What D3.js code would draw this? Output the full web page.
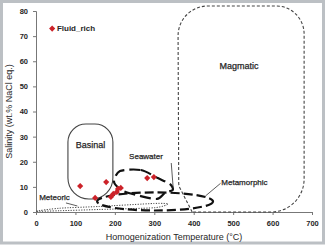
<!DOCTYPE html>
<html><head><meta charset="utf-8">
<script src="https://cdn.jsdelivr.net/npm/d3@7/dist/d3.min.js"></script>
<style>html,body{margin:0;padding:0;background:#fff;}svg{display:block;}</style>
</head><body>
<script>
// ---- data ----
const xTicks = [0,100,200,300,400,500,600,700];
const yTicks = [0,10,20,30,40,50,60,70,80];
const xTitle = "Homogenization Temperature (°C)";
const yTitle = "Salinity (wt.% NaCl eq.)";
const seriesName = "Fluid_rich";
const fluidT = [112,150,178,190,196,205,208,215,282,299];
const fluidS = [10.3,5.6,11.9,6.0,7.2,8.0,9.2,9.6,13.5,13.9];
// field outlines (temperature, salinity)
const magmaticField = [[396,0],[362,10.5],[360,82],[680,82],[680,0]];
const basinalField = [[81,35],[195,35],[195,5.2],[81,5.2]];
const seawaterField = [[213,16.3],[266,16.7],[309,13.5],[340,11.1],[347,8.8],[327,7.6],[307,5.2],[264,6.4],[221,8.4],[198,11.9]];
const metamorphicField = {cT:302, cS:4.2, rT:147, rS:3.6};
const meteoricField = [[0,0.3],[60,1.5],[160,2.2],[300,3.4],[335,3.2],[300,1.7],[160,1.0],[60,0.5]];
const fieldLabels = ["Magmatic","Basinal","Seawater","Metamorphic","Meteoric"];

// ---- drawing ----
const W = 325, H = 245;
const svg = d3.select("body").append("svg").attr("width", W).attr("height", H);
svg.append("rect").attr("x",0).attr("y",0).attr("width",W).attr("height",H).attr("fill","#fff");
svg.append("rect").attr("x",1.5).attr("y",1.5).attr("width",W-3).attr("height",H-3.5)
  .attr("fill","none").attr("stroke","#bcc0c4").attr("stroke-width",3);

const x = d3.scaleLinear().domain([0,700]).range([36,312]);
const y = d3.scaleLinear().domain([0,80]).range([212,11]);
const font = "'Liberation Sans', Arial, sans-serif";
const txt = "#262626";

function roundedPath(pts, radii){
  const p = d3.path(); const n = pts.length;
  for (let i=0;i<n;i++){
    const c = pts[i], pr = pts[(i-1+n)%n], nx = pts[(i+1)%n];
    const d1 = Math.hypot(pr[0]-c[0], pr[1]-c[1]), d2 = Math.hypot(nx[0]-c[0], nx[1]-c[1]);
    const r1 = Math.min(radii[i], d1/2), r2 = Math.min(radii[i], d2/2);
    const a = [c[0]+(pr[0]-c[0])*r1/d1, c[1]+(pr[1]-c[1])*r1/d1];
    const b = [c[0]+(nx[0]-c[0])*r2/d2, c[1]+(nx[1]-c[1])*r2/d2];
    if (i===0) p.moveTo(a[0],a[1]); else p.lineTo(a[0],a[1]);
    const k = 0.552;
    p.bezierCurveTo(a[0]+(c[0]-a[0])*k, a[1]+(c[1]-a[1])*k, b[0]+(c[0]-b[0])*k, b[1]+(c[1]-b[1])*k, b[0], b[1]);
  }
  p.closePath();
  return p.toString();
}
const toPx = arr => arr.map(d => [x(d[0]), y(d[1])]);

// axes
const gx = svg.append("g").attr("transform",`translate(0,${y(0)})`)
  .call(d3.axisBottom(x).tickValues(xTicks).tickSize(3).tickPadding(6).tickFormat(d3.format("d")));
const gy = svg.append("g").attr("transform",`translate(${x(0)},0)`)
  .call(d3.axisLeft(y).tickValues(yTicks).tickSize(3).tickPadding(5).tickFormat(d3.format("d")));
[gx,gy].forEach(g=>{
  g.select(".domain").attr("stroke","#777");
  g.selectAll(".tick line").attr("stroke","#777");
  g.selectAll("text").attr("font-family",font).attr("font-size",7.5).attr("font-weight","bold").attr("fill",txt);
});

// meteoric (dotted)
svg.append("path").attr("d", d3.line().curve(d3.curveCardinalClosed.tension(0.3))(toPx(meteoricField)))
  .attr("fill","none").attr("stroke","#444").attr("stroke-width",1).attr("stroke-dasharray","1.2,1.4");
// magmatic (short dashes)
svg.append("path").attr("d", roundedPath(toPx(magmaticField), [0,2,30,28,33]))
  .attr("fill","none").attr("stroke","#444").attr("stroke-width",1.1).attr("stroke-dasharray","3,2");
// basinal (solid)
svg.append("path").attr("d", roundedPath(toPx(basinalField), [18,18,21,21]))
  .attr("fill","none").attr("stroke","#444").attr("stroke-width",1.1);
// metamorphic ellipse
svg.append("ellipse")
  .attr("cx", x(metamorphicField.cT)).attr("cy", y(metamorphicField.cS))
  .attr("rx", x(metamorphicField.cT+metamorphicField.rT)-x(metamorphicField.cT))
  .attr("ry", y(0)-y(metamorphicField.rS))
  .attr("fill","none").attr("stroke","#111").attr("stroke-width",2.2).attr("stroke-dasharray","9,4");
// seawater
svg.append("path").attr("d", d3.line().curve(d3.curveCardinalClosed.tension(0.2))(toPx(seawaterField)))
  .attr("fill","none").attr("stroke","#111").attr("stroke-width",2.2).attr("stroke-dasharray","11,5");

// leader lines
const leader = (x1,y1,x2,y2)=>svg.append("line").attr("x1",x1).attr("y1",y1).attr("x2",x2).attr("y2",y2)
  .attr("stroke","#333").attr("stroke-width",0.8);
leader(x(343), y(19.5), x(348), y(9.5));
leader(x(468), y(11.4), x(430), y(6.4));
leader(x(76), y(3.6), x(105), y(2.4));

// labels
const lab = (t,xx,yy,anchor,size)=>svg.append("text").attr("x",xx).attr("y",yy).attr("text-anchor",anchor)
  .attr("dominant-baseline","central").attr("font-family",font).attr("font-size",size).attr("fill",txt)
  .attr("stroke",txt).attr("stroke-width",0.25).text(t);
lab(fieldLabels[0], x(515), y(58), "middle", 9);
lab(fieldLabels[1], x(138), y(26.5), "middle", 9);
lab(fieldLabels[2], x(279), y(21.9), "middle", 8);
lab(fieldLabels[3], x(470), y(11.9), "start", 8);
lab(fieldLabels[4], x(8), y(5.6), "start", 8);

// points (square diamonds)
const sym = d3.symbol().type(d3.symbolSquare).size(19);
svg.append("g").selectAll("path").data(fluidT).join("path")
  .attr("transform",(d,i)=>`translate(${x(d)},${y(fluidS[i])}) rotate(45)`)
  .attr("d", sym).attr("fill","#cc2229");

// legend
svg.append("path").attr("transform",`translate(${x(41)},${y(73)}) rotate(45)`).attr("d", sym).attr("fill","#cc2229");
svg.append("text").attr("x", x(53)).attr("y", y(73)).attr("dominant-baseline","central")
  .attr("font-family",font).attr("font-size",8).attr("font-weight","bold").attr("fill",txt).text(seriesName);

// axis titles
svg.append("text").attr("x",(x(0)+x(700))/2).attr("y",237).attr("text-anchor","middle").attr("dominant-baseline","central")
  .attr("font-family",font).attr("font-size",9).attr("fill",txt).text(xTitle);
svg.append("text").attr("transform",`translate(9,${(y(0)+y(80))/2}) rotate(-90)`).attr("text-anchor","middle").attr("dominant-baseline","central")
  .attr("font-family",font).attr("font-size",9).attr("fill",txt).text(yTitle);
</script>
</body></html>
